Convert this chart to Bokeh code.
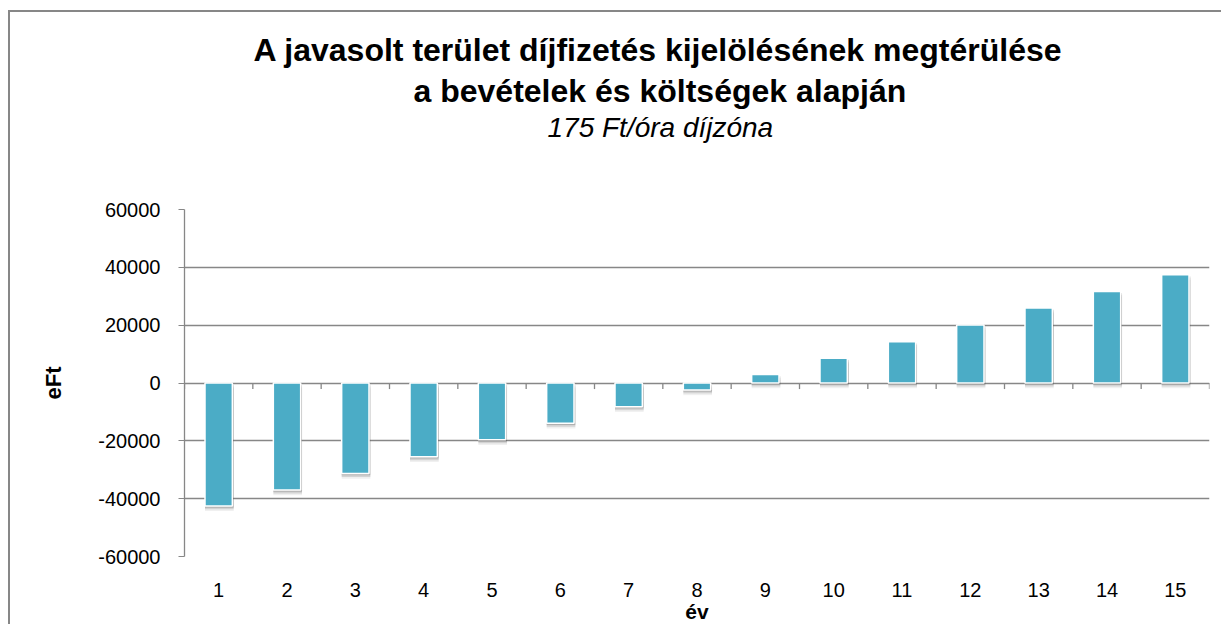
from bokeh.plotting import figure
from bokeh.models import Title, FixedTicker
from bokeh.embed import file_html
from bokeh.resources import INLINE

# ---- data ----
years = list(range(1, 16))
year_labels = [str(y) for y in years]
net_value = [-42500, -37000, -31300, -25500, -19600, -13900, -8200, -2400,
             2900, 8600, 14300, 20100, 25900, 31600, 37400]
y_ticks = [-60000, -40000, -20000, 0, 20000, 40000, 60000]
y_tick_labels = ["-60000", "-40000", "-20000", "0", "20000", "40000", "60000"]

title_1 = "A javasolt terület díjfizetés kijelölésének megtérülése"
title_2 = "a bevételek és költségek alapján"
title_3 = "175 Ft/óra díjzóna"
y_title = "eFt"
x_title = "év"

FONT = "Liberation Sans"
GRID = "#878787"
BAR = "#4BACC6"

W, H = 1213, 614

p = figure(width=W, height=H, output_backend="svg", toolbar_location=None,
           x_range=(0.5, 15.5), y_range=(-60000, 60000),
           min_border_left=174, min_border_right=14,
           min_border_top=197, min_border_bottom=70)
p.styles = {"border-left": "2px solid #878787", "border-top": "2px solid #878787",
            "margin-top": "10px", "margin-left": "8px"}
p.outline_line_color = None
p.background_fill_color = "white"
p.border_fill_color = "white"

# titles: added ones stack outward from the frame; p.title is outermost.
# a near-empty spacer title keeps the gap between the subtitle and the frame
p.add_layout(Title(text=" ", text_font=FONT, text_font_size="2px",
                   standoff=63), "above")
p.add_layout(Title(text=title_3, text_font=FONT, text_font_size="28px",
                   text_font_style="italic", text_color="black",
                   align="left", offset=363, standoff=0), "above")
p.add_layout(Title(text=title_2, text_font=FONT, text_font_size="32px",
                   text_font_style="bold", text_color="black",
                   align="left", offset=229, standoff=1), "above")
p.title.text = title_1
p.title.text_font = FONT
p.title.text_font_size = "32px"
p.title.text_font_style = "bold"
p.title.text_color = "black"
p.title.align = "left"
p.title.offset = 69
p.title.standoff = 5

# grid
p.xgrid.grid_line_color = None
p.ygrid.ticker = FixedTicker(ticks=y_ticks)
p.ygrid.grid_line_color = GRID
p.ygrid.grid_line_width = 1.3

# y axis
p.yaxis.ticker = FixedTicker(ticks=y_ticks)
p.yaxis.major_label_overrides = {t: l for t, l in zip(y_ticks, y_tick_labels)}
p.yaxis.axis_line_color = GRID
p.yaxis.axis_line_width = 1.3
p.yaxis.major_tick_line_color = GRID
p.yaxis.major_tick_in = 0
p.yaxis.major_tick_out = 6
p.yaxis.minor_tick_line_color = None
p.yaxis.major_label_standoff = 18
p.yaxis.major_label_text_font = FONT
p.yaxis.major_label_text_font_size = "20px"
p.yaxis.major_label_text_color = "black"
p.yaxis.axis_label = y_title
p.yaxis.axis_label_text_font = FONT
p.yaxis.axis_label_text_font_size = "22px"
p.yaxis.axis_label_text_font_style = "bold"
p.yaxis.axis_label_text_color = "black"
p.yaxis.axis_label_standoff = 29

# x axis (labels only, at the bottom)
p.xaxis.ticker = FixedTicker(ticks=years)
p.xaxis.major_label_overrides = {y: l for y, l in zip(years, year_labels)}
p.xaxis.axis_line_color = None
p.xaxis.major_tick_line_color = None
p.xaxis.minor_tick_line_color = None
p.xaxis.major_label_standoff = 20
p.xaxis.major_label_text_font = FONT
p.xaxis.major_label_text_font_size = "20px"
p.xaxis.major_label_text_color = "black"
p.xaxis.axis_label = x_title
p.xaxis.axis_label_text_font = FONT
p.xaxis.axis_label_text_font_size = "21px"
p.xaxis.axis_label_text_font_style = "bold"
p.xaxis.axis_label_text_color = "black"
p.xaxis.axis_label_standoff = 0

# category tick marks on the zero line
bounds = [y - 0.5 for y in years] + [years[-1] + 0.5]
p.segment(x0=bounds, x1=bounds, y0=[0] * len(bounds), y1=[-2100] * len(bounds),
          line_color=GRID, line_width=1.3)

# soft shadows
tops = [max(v, 0) for v in net_value]
bots = [min(v, 0) for v in net_value]
for off, a in [(600, 0.28), (1200, 0.18), (1800, 0.09)]:
    p.vbar(x=[x + 0.01 for x in years], width=0.42,
           top=[t - off for t in tops], bottom=[b - off for b in bots],
           fill_color="#555555", fill_alpha=a, line_color=None)

# bars
p.vbar(x=years, width=0.4, top=tops, bottom=bots,
       fill_color=BAR, line_color="white", line_width=1.5)

open("out.html", "w").write(file_html(p, INLINE))
